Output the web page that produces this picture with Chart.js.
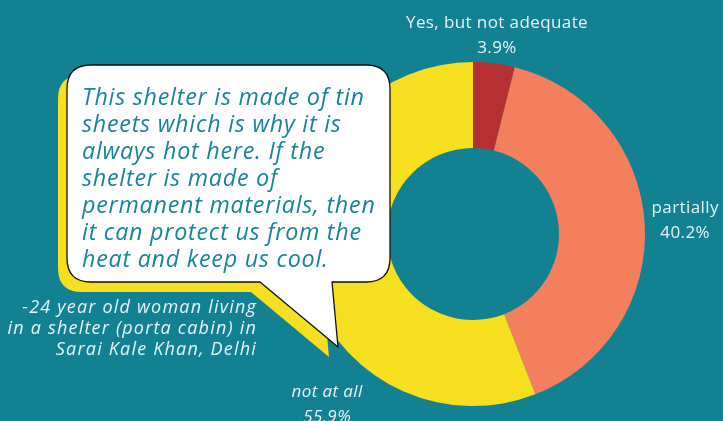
<!DOCTYPE html>
<html>
<head>
<meta charset="utf-8">
<script src="https://cdn.jsdelivr.net/npm/chart.js@4"></script>
<style>
  html, body { margin: 0; padding: 0; background: #128293; }
  #wrap { position: relative; width: 723px; height: 421px; overflow: hidden; background: #128293; }
  canvas { position: absolute; left: 0; top: 0; }
  .lbl { position: absolute; color: #E8F3F3; font-family: "Open Sans", Lato, sans-serif; font-size: 17px; line-height: 25px; text-align: center; white-space: nowrap; letter-spacing: 0.4px; }
  #quote { position: absolute; left: 82px; top: 83px; color: #17849A; font-family: "Open Sans", Lato, sans-serif; font-style: italic; font-size: 23.3px; line-height: 27px; white-space: nowrap; letter-spacing: 0.75px; }
  #attr { position: absolute; right: 466px; top: 296px; color: #E8F3F3; font-family: "Open Sans", Lato, sans-serif; font-style: italic; font-size: 18px; line-height: 21px; text-align: right; white-space: nowrap; letter-spacing: 1.2px; }
</style>
</head>
<body>
<div id="wrap">
  <canvas id="c" width="723" height="421"></canvas>
  <div id="quote"></div>
  <div id="attr"></div>
</div>
<script>
const categories = ["Yes, but not adequate", "partially", "not at all"];
const values = [3.9, 40.2, 55.9];
const sliceColors = ["#B52F33", "#F47F5D", "#F6DF1F"];
const quoteLines = [
  "This shelter is made of tin",
  "sheets which is why it is",
  "always hot here. If the",
  "shelter is made of",
  "permanent materials, then",
  "it can protect us from the",
  "heat and keep us cool."
];
const attributionLines = [
  "-24 year old woman living",
  "in a shelter (porta cabin) in",
  "Sarai Kale Khan, Delhi"
];

document.getElementById('quote').innerHTML = quoteLines.join('<br>');
document.getElementById('attr').innerHTML = attributionLines.join('<br>');

// outside labels
const labelPos = [
  { cx: 497, top: 9, italic: false },
  { cx: 685, top: 194, italic: false },
  { cx: 327, top: 378, italic: true }
];
const wrap = document.getElementById('wrap');
categories.forEach((cat, i) => {
  const d = document.createElement('div');
  d.className = 'lbl';
  d.innerHTML = cat + '<br>' + values[i].toFixed(1) + '%';
  d.style.top = labelPos[i].top + 'px';
  d.style.fontStyle = labelPos[i].italic ? 'italic' : 'normal';
  wrap.appendChild(d);
  d.style.left = (labelPos[i].cx - d.offsetWidth / 2) + 'px';
});

function bubblePath(ctx, dx, dy) {
  const L = 67 + dx, R = 390 + dx, T = 65 + dy, B = 282 + dy, r = 24;
  ctx.beginPath();
  ctx.moveTo(L + r, T);
  ctx.lineTo(R - r, T);
  ctx.quadraticCurveTo(R, T, R, T + r);
  ctx.lineTo(R, B - r);
  ctx.quadraticCurveTo(R, B, R - r, B);
  ctx.lineTo(332 + dx, B);
  ctx.lineTo(338 + dx, 347 + dy);
  ctx.lineTo(260 + dx, B);
  ctx.lineTo(L + r, B);
  ctx.quadraticCurveTo(L, B, L, B - r);
  ctx.lineTo(L, T + r);
  ctx.quadraticCurveTo(L, T, L + r, T);
  ctx.closePath();
}

const bubblePlugin = {
  id: 'bubble',
  afterDraw(chart) {
    const ctx = chart.ctx;
    ctx.save();
    bubblePath(ctx, -9, 10);
    ctx.fillStyle = '#F6DF1F';
    ctx.fill();
    bubblePath(ctx, 0, 0);
    ctx.fillStyle = '#FFFFFF';
    ctx.fill();
    ctx.lineWidth = 1.3;
    ctx.strokeStyle = '#111111';
    ctx.lineJoin = 'round';
    ctx.stroke();
    ctx.restore();
  }
};

new Chart(document.getElementById('c'), {
  type: 'doughnut',
  data: {
    labels: categories,
    datasets: [{
      data: values,
      backgroundColor: sliceColors,
      borderWidth: 0,
      hoverOffset: 0
    }]
  },
  options: {
    responsive: false,
    animation: false,
    cutout: '50%',
    layout: { padding: { left: 301, right: 78, top: 62, bottom: 15 } },
    plugins: {
      legend: { display: false },
      tooltip: { enabled: false },
      title: { display: false }
    }
  },
  plugins: [bubblePlugin]
});
</script>
</body>
</html>
